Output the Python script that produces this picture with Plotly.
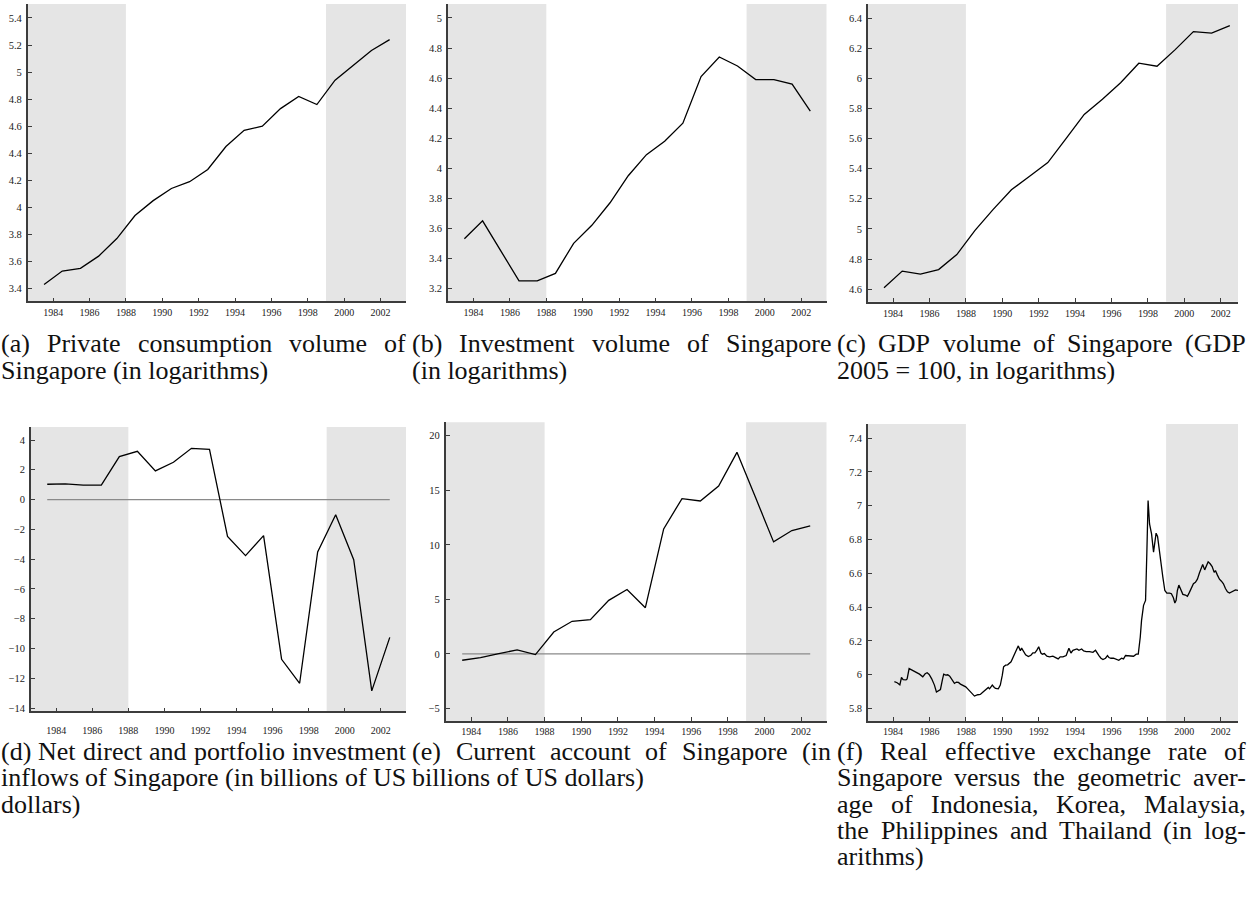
import plotly.graph_objects as go

# ---------------- data ----------------
years = [1983, 1984, 1985, 1986, 1987, 1988, 1989, 1990, 1991, 1992,
         1993, 1994, 1995, 1996, 1997, 1998, 1999, 2000, 2001, 2002]
consumption = [3.43, 3.53, 3.55, 3.64, 3.77, 3.94, 4.05, 4.14, 4.19, 4.28,
               4.45, 4.57, 4.60, 4.73, 4.82, 4.76, 4.94, 5.05, 5.16, 5.24]
investment = [3.53, 3.65, 3.45, 3.25, 3.25, 3.30, 3.50, 3.62, 3.77, 3.95,
              4.09, 4.18, 4.30, 4.61, 4.74, 4.68, 4.59, 4.59, 4.56, 4.38]
gdp = [4.61, 4.72, 4.70, 4.73, 4.83, 4.99, 5.13, 5.26, 5.35, 5.44,
       5.60, 5.76, 5.86, 5.97, 6.10, 6.08, 6.19, 6.31, 6.30, 6.35]
net_inflows = [1.03, 1.05, 0.97, 0.97, 2.89, 3.24, 1.93, 2.51, 3.44, 3.38,
               -2.47, -3.76, -2.42, -10.72, -12.33, -3.52, -1.02, -4.03, -12.84, -9.25]
current_account = [-0.58, -0.34, 0.03, 0.37, -0.06, 2.01, 2.99, 3.14, 4.91, 5.91,
                   4.24, 11.46, 14.24, 14.02, 15.40, 18.48, 14.40, 10.27, 11.31, 11.74]

reer_time = [1984.07, 1984.22, 1984.37, 1984.46, 1984.55, 1984.71, 1984.77, 1984.88, 1984.99,
             1985.12, 1985.26, 1985.45, 1985.63, 1985.76, 1985.87, 1985.98, 1986.12, 1986.27,
             1986.38, 1986.49, 1986.60, 1986.71, 1986.78, 1986.89, 1987.00, 1987.11, 1987.26,
             1987.37, 1987.48, 1987.59, 1987.70, 1987.84, 1987.99, 1988.10, 1988.21, 1988.36,
             1988.47, 1988.65, 1988.79, 1988.94, 1989.08, 1989.23, 1989.30, 1989.45, 1989.56,
             1989.63, 1989.78, 1989.89, 1990.00, 1990.07, 1990.18, 1990.29, 1990.48, 1990.59,
             1990.70, 1990.81, 1990.88, 1990.99, 1991.06, 1991.17, 1991.28, 1991.43, 1991.57,
             1991.68, 1991.79, 1991.90, 1992.00, 1992.12, 1992.20, 1992.31, 1992.45, 1992.60,
             1992.78, 1992.93, 1993.07, 1993.18, 1993.33, 1993.51, 1993.66, 1993.77, 1993.88,
             1993.99, 1994.10, 1994.21, 1994.36, 1994.47, 1994.61, 1994.79, 1994.98, 1995.12,
             1995.20, 1995.31, 1995.42, 1995.53, 1995.67, 1995.78, 1995.86, 1995.97, 1996.11,
             1996.26, 1996.40, 1996.55, 1996.66, 1996.77, 1996.92, 1997.06, 1997.21, 1997.36,
             1997.47, 1997.58, 1997.65, 1997.76, 1997.87, 1997.94, 1998.01, 1998.09, 1998.20,
             1998.31, 1998.38, 1998.45, 1998.53, 1998.60, 1998.71, 1998.82, 1998.93, 1999.04,
             1999.19, 1999.29, 1999.40, 1999.48, 1999.55, 1999.62, 1999.70, 1999.81, 1999.92,
             2000.06, 2000.17, 2000.28, 2000.39, 2000.50, 2000.61, 2000.72, 2000.83, 2000.94,
             2001.01, 2001.12, 2001.23, 2001.31, 2001.42, 2001.53, 2001.64, 2001.71, 2001.82,
             2001.93, 2002.04, 2002.15, 2002.26, 2002.37, 2002.48, 2002.59, 2002.70, 2002.81,
             2002.95]
reer_value = [5.958, 5.952, 5.940, 5.983, 5.971, 5.969, 5.975, 6.036, 6.030,
              6.023, 6.015, 6.003, 5.987, 6.005, 6.011, 6.001, 5.975, 5.938,
              5.897, 5.907, 5.912, 5.971, 6.003, 5.997, 5.999, 5.991, 5.967,
              5.948, 5.956, 5.954, 5.944, 5.938, 5.928, 5.916, 5.902, 5.885,
              5.873, 5.881, 5.883, 5.897, 5.912, 5.924, 5.916, 5.938, 5.924,
              5.918, 5.916, 5.938, 5.997, 6.046, 6.056, 6.058, 6.076, 6.105,
              6.135, 6.155, 6.170, 6.141, 6.157, 6.135, 6.117, 6.107, 6.115,
              6.129, 6.129, 6.145, 6.165, 6.128, 6.121, 6.125, 6.109, 6.105,
              6.109, 6.101, 6.093, 6.105, 6.105, 6.113, 6.156, 6.128, 6.144,
              6.148, 6.152, 6.144, 6.152, 6.140, 6.136, 6.136, 6.132, 6.144,
              6.128, 6.113, 6.097, 6.089, 6.097, 6.113, 6.101, 6.097, 6.097,
              6.089, 6.085, 6.097, 6.093, 6.113, 6.113, 6.109, 6.109, 6.121,
              6.121, 6.223, 6.321, 6.410, 6.439, 6.715, 7.030, 6.892, 6.833,
              6.725, 6.774, 6.837, 6.818, 6.754, 6.675, 6.577, 6.498, 6.483,
              6.483, 6.479, 6.455, 6.424, 6.440, 6.498, 6.530, 6.506, 6.475,
              6.471, 6.463, 6.487, 6.510, 6.538, 6.546, 6.565, 6.601, 6.632,
              6.652, 6.620, 6.648, 6.668, 6.656, 6.640, 6.605, 6.616, 6.589,
              6.565, 6.553, 6.538, 6.510, 6.490, 6.483, 6.490, 6.494, 6.502,
              6.498]

xtick_years = [1984, 1986, 1988, 1990, 1992, 1994, 1996, 1998, 2000, 2002]
calm_start, calm_end = 1988, 1999   # shaded periods lie outside this window

captions = {
    "a": ["(a) Private consumption volume of", "Singapore (in logarithms)"],
    "b": ["(b) Investment volume of Singapore", "(in logarithms)"],
    "c": ["(c) GDP volume of Singapore (GDP", "2005 = 100, in logarithms)"],
    "d": ["(d) Net direct and portfolio investment", "inflows of Singapore (in billions of US", "dollars)"],
    "e": ["(e) Current account of Singapore (in", "billions of US dollars)"],
    "f": ["(f) Real effective exchange rate of", "Singapore versus the geometric aver-",
          "age of Indonesia, Korea, Malaysia,", "the Philippines and Thailand (in log-", "arithms)"],
}

# ---------------- layout helpers ----------------
W, H = 1248, 904
SERIF = "Liberation Serif, Times New Roman, Times, serif"
mid_years = [y + 0.5 for y in years]

panels = [
    dict(key="a", x=mid_years, y=consumption, zero=False, px=(27.7, 406), py=(4, 302),
         xr=(1982.6, 2003.4), yr=(3.306, 5.503), t0=3.4, dt=0.2),
    dict(key="b", x=mid_years, y=investment, zero=False, px=(448, 826.7), py=(4, 302),
         xr=(1982.6, 2003.4), yr=(3.114, 5.093), t0=3.2, dt=0.2),
    dict(key="c", x=mid_years, y=gdp, zero=False, px=(868, 1238), py=(4, 302.5),
         xr=(1982.62, 2002.95), yr=(4.516, 6.493), t0=4.6, dt=0.2),
    dict(key="d", x=mid_years, y=net_inflows, zero=True, px=(31, 406), py=(428, 713),
         xr=(1982.6, 2003.4), yr=(-14.22, 4.87), t0=-14, dt=2, standoff=9),
    dict(key="e", x=mid_years, y=current_account, zero=True, px=(445.7, 826.7), py=(423.3, 722.7),
         xr=(1982.6, 2003.4), yr=(-6.16, 21.23), t0=-5, dt=5, standoff=0),
    dict(key="f", x=reer_time, y=reer_value, zero=False, px=(868, 1238), py=(425, 722.7),
         xr=(1982.62, 2002.95), yr=(5.725, 7.483), t0=5.8, dt=0.2, standoff=0),
]

fig = go.Figure()
layout = dict(width=W, height=H, margin=dict(l=0, r=0, t=0, b=0),
              paper_bgcolor="white", plot_bgcolor="white", showlegend=False,
              font=dict(family=SERIF, color="#222"))
shapes = []
AX = "#3c3c3c"

for i, p in enumerate(panels, start=1):
    sfx = "" if i == 1 else str(i)
    xa, ya = "x" + sfx, "y" + sfx
    # shaded periods
    shapes.append(dict(type="rect", xref=xa, yref=ya + " domain", x0=p["xr"][0], x1=calm_start,
                       y0=0, y1=1, fillcolor="#e5e5e5", line=dict(width=0), layer="below"))
    shapes.append(dict(type="rect", xref=xa, yref=ya + " domain", x0=calm_end, x1=p["xr"][1],
                       y0=0, y1=1, fillcolor="#e5e5e5", line=dict(width=0), layer="below"))
    if p["zero"]:
        fig.add_trace(go.Scatter(x=p["x"], y=[0] * len(p["x"]), mode="lines",
                                 line=dict(color="#8a8a8a", width=1.3), xaxis=xa, yaxis=ya,
                                 hoverinfo="skip"))
    fig.add_trace(go.Scatter(x=p["x"], y=p["y"], mode="lines",
                             line=dict(color="black", width=1.3), xaxis=xa, yaxis=ya))
    layout["xaxis" + sfx] = dict(
        domain=[p["px"][0] / W, p["px"][1] / W], anchor=ya, range=list(p["xr"]),
        tickvals=xtick_years, ticktext=[str(v) for v in xtick_years],
        showgrid=False, zeroline=False, showline=True, linecolor=AX, linewidth=1.6,
        ticks="inside", ticklen=4, tickwidth=1, tickcolor=AX,
        tickfont=dict(family=SERIF, size=10, color="#222"),
        ticklabelstandoff=p.get("standoff", 1))
    layout["yaxis" + sfx] = dict(
        domain=[1 - p["py"][1] / H, 1 - p["py"][0] / H], anchor=xa, range=list(p["yr"]),
        tick0=p["t0"], dtick=p["dt"],
        showgrid=False, zeroline=False, showline=True, linecolor=AX, linewidth=1.6,
        ticks="inside", ticklen=4, tickwidth=1, tickcolor=AX,
        tickfont=dict(family=SERIF, size=10.5, color="#222"), ticklabelstandoff=2)

# ---------------- captions (justified like the LaTeX original) ----------------
TW = {' ': 250, '(': 333, ')': 333, ',': 250, '.': 250, '-': 333, '=': 564}
TW.update({d: 500 for d in "0123456789"})
TW.update(dict(a=444, b=500, c=444, d=500, e=444, f=333, g=500, h=500, i=278, j=278, k=500,
               l=278, m=778, n=500, o=500, p=500, q=500, r=333, s=389, t=278, u=500, v=500,
               w=722, x=500, y=500, z=444))
TW.update(dict(A=722, B=667, C=667, D=722, E=611, F=556, G=722, H=722, I=333, K=722, L=611,
               M=889, N=722, P=556, R=667, S=556, T=611, U=722))

FS = 26
def wwidth(word):
    return sum(TW.get(ch, 500) for ch in word) * FS / 1000.0

cols = {"a": (0, 405), "b": (411, 830), "c": (836, 1245),
        "d": (0, 405), "e": (411, 830), "f": (836, 1245)}
rows = {"a": (344, 27), "b": (344, 27), "c": (344, 27),
        "d": (753.5, 26.2), "e": (753.5, 26.2), "f": (753.5, 26.2)}

annotations = []
for key, lines in captions.items():
    L, R = cols[key]
    y0, dy = rows[key]
    for li, line in enumerate(lines):
        yy = 1 - (y0 + li * dy) / H
        words = line.split(" ")
        last = li == len(lines) - 1
        if last or len(words) == 1:
            annotations.append(dict(text=line, x=L / W, y=yy, xref="paper", yref="paper",
                                    xanchor="left", yanchor="middle", showarrow=False,
                                    borderpad=0,
                                    font=dict(family=SERIF, size=FS, color="#111")))
            continue
        widths = [wwidth(w) for w in words]
        gap = (R - L - sum(widths)) / (len(words) - 1)
        gap = max(gap, 0.1 * FS)
        xpos = L
        for w, ww in zip(words, widths):
            annotations.append(dict(text=w, x=xpos / W, y=yy, xref="paper", yref="paper",
                                    xanchor="left", yanchor="middle", showarrow=False,
                                    borderpad=0,
                                    font=dict(family=SERIF, size=FS, color="#111")))
            xpos += ww + gap

layout["shapes"] = shapes
layout["annotations"] = annotations
fig.update_layout(**layout)
fig.write_html("out.html", config={"displayModeBar": False},
               post_script="document.body.style.margin='0px';")
